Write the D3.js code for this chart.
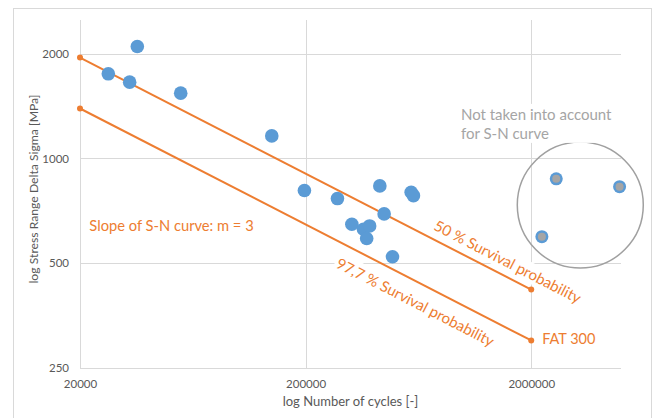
<!DOCTYPE html>
<html>
<head>
<meta charset="utf-8">
<script src="https://cdn.jsdelivr.net/npm/d3@7"></script>
<style>
  body { margin: 0; background: #fff; }
  svg text { font-family: "Lato", "Open Sans", sans-serif; }
</style>
</head>
<body>
<div id="chart-div"></div>
<script>
// Constants for the chart
const CHART_WIDTH = 653;
const CHART_HEIGHT = 418;
const MARGIN = { left: 80, top: 20, right: 32, bottom: 50 };

// test results: cycles N and stress range
const cycles = [35900, 26700, 33200, 55900, 141600, 197600, 276800, 426600, 587400,
  601200, 445800, 320600, 361000, 384400, 373000, 485400];
const stress = [2098, 1751, 1657, 1541, 1161, 809, 767, 834, 800,
  782, 693, 647, 626, 640, 589, 522];

// results not taken into account for the S-N curve
const excludedCycles = [2582000, 4928000, 2230000];
const excludedStress = [874, 830, 596];

// S-N curves (slope m = 3), end points
const curveCycles = [20000, 2000000];
const curve50 = [1950, 420];
const curve977 = [1392, 300];

// axis ticks
const xTicks = [20000, 200000, 2000000];
const yTicks = [250, 500, 1000, 2000];

const BLUE = "#5b9bd5";
const ORANGE = "#ed7d31";
const GREY = "#a5a5a5";
const GRID = "#d9d9d9";
const TEXT = "#595959";

let svg = d3.select("#chart-div")
  .append("svg")
  .attr("width", CHART_WIDTH)
  .attr("height", CHART_HEIGHT);

// chart frame
svg.append("rect")
  .attr("x", 13.5).attr("y", 8.5)
  .attr("width", 638).attr("height", 430)
  .attr("fill", "none").attr("stroke", GRID);

let xScale = d3.scaleLog()
  .domain([20000, 5000000])
  .range([MARGIN.left, CHART_WIDTH - MARGIN.right]);

let yScale = d3.scaleLog().base(2)
  .domain([250, 2500])
  .range([CHART_HEIGHT - MARGIN.bottom, MARGIN.top]);

// gridlines
let grid = svg.append("g").attr("class", "grid");
grid.selectAll("line.h")
  .data(yTicks.slice(1))
  .join("line")
  .attr("class", "h")
  .attr("x1", MARGIN.left).attr("x2", CHART_WIDTH - MARGIN.right)
  .attr("y1", d => Math.round(yScale(d)) + 0.5).attr("y2", d => Math.round(yScale(d)) + 0.5)
  .attr("stroke", GRID);
grid.selectAll("line.v")
  .data(xTicks.slice(1))
  .join("line")
  .attr("class", "v")
  .attr("y1", MARGIN.top).attr("y2", CHART_HEIGHT - MARGIN.bottom)
  .attr("x1", d => Math.round(xScale(d)) + 0.5).attr("x2", d => Math.round(xScale(d)) + 0.5)
  .attr("stroke", GRID);
// axis lines
grid.append("line")
  .attr("x1", MARGIN.left + 0.5).attr("x2", MARGIN.left + 0.5)
  .attr("y1", MARGIN.top).attr("y2", CHART_HEIGHT - MARGIN.bottom)
  .attr("stroke", GRID);
grid.append("line")
  .attr("x1", MARGIN.left).attr("x2", CHART_WIDTH - MARGIN.right)
  .attr("y1", CHART_HEIGHT - MARGIN.bottom + 0.5).attr("y2", CHART_HEIGHT - MARGIN.bottom + 0.5)
  .attr("stroke", GRID);

// axes (labels only)
let xAxis = d3.axisBottom(xScale).tickValues(xTicks).tickFormat(d3.format("d")).tickSize(0).tickPadding(12);
let yAxis = d3.axisLeft(yScale).tickValues(yTicks).tickFormat(d3.format("d")).tickSize(0).tickPadding(11);

svg.append("g")
  .attr("class", "x-axis")
  .attr("transform", "translate(0," + (CHART_HEIGHT - MARGIN.bottom) + ")")
  .call(xAxis);
svg.append("g")
  .attr("class", "y-axis")
  .attr("transform", "translate(" + MARGIN.left + ",0)")
  .call(yAxis);
svg.selectAll(".domain").remove();
svg.selectAll(".x-axis text, .y-axis text")
  .attr("fill", TEXT)
  .style("font-size", "11.5px");

// axis titles
svg.append("text")
  .attr("x", (MARGIN.left + CHART_WIDTH - MARGIN.right) / 2)
  .attr("y", 406)
  .attr("text-anchor", "middle")
  .attr("fill", TEXT)
  .style("font-size", "13px")
  .text("log Number of cycles [-]");
svg.append("text")
  .attr("transform", "translate(38,189) rotate(-90)")
  .attr("text-anchor", "middle")
  .attr("fill", TEXT)
  .style("font-size", "12.2px")
  .text("log Stress Range Delta Sigma [MPa]");

// S-N curves
const lineGenerator = d3.line()
  .x(d => xScale(d[0]))
  .y(d => yScale(d[1]));

[curve50, curve977].forEach(curve => {
  let pts = curveCycles.map((c, i) => [c, curve[i]]);
  svg.append("path")
    .datum(pts)
    .attr("d", lineGenerator)
    .attr("fill", "none")
    .attr("stroke", ORANGE)
    .attr("stroke-width", 2);
  svg.append("g")
    .selectAll("circle")
    .data(pts)
    .join("circle")
    .attr("cx", d => xScale(d[0]))
    .attr("cy", d => yScale(d[1]))
    .attr("r", 3)
    .attr("fill", ORANGE);
});

// test results
svg.append("g")
  .attr("class", "scatter")
  .selectAll("circle")
  .data(cycles.map((c, i) => [c, stress[i]]))
  .join("circle")
  .attr("cx", d => xScale(d[0]))
  .attr("cy", d => yScale(d[1]))
  .attr("r", 6.8)
  .attr("fill", BLUE);

let excl = svg.append("g").attr("class", "excluded");
let exclData = excludedCycles.map((c, i) => [c, excludedStress[i]]);
excl.selectAll("circle.outer")
  .data(exclData)
  .join("circle")
  .attr("class", "outer")
  .attr("cx", d => xScale(d[0]))
  .attr("cy", d => yScale(d[1]))
  .attr("r", 6.5)
  .attr("fill", BLUE);
excl.selectAll("circle.inner")
  .data(exclData)
  .join("circle")
  .attr("class", "inner")
  .attr("cx", d => xScale(d[0]))
  .attr("cy", d => yScale(d[1]))
  .attr("r", 4)
  .attr("fill", GREY);

// annotation ring around the excluded results
svg.append("circle")
  .attr("cx", xScale(3300000))
  .attr("cy", yScale(735))
  .attr("r", 63)
  .attr("fill", "none")
  .attr("stroke", "#a0a0a0")
  .attr("stroke-width", 1.5);

// labels with white boxes, like the text boxes
const angle = Math.atan2(
  yScale(curve50[1]) - yScale(curve50[0]),
  xScale(curveCycles[1]) - xScale(curveCycles[0])) * 180 / Math.PI;

function addLabel(x, y, rot, lines, color, size) {
  let g = svg.append("g").attr("transform", `translate(${x},${y}) rotate(${rot})`);
  let bg = g.append("rect").attr("fill", "#fff");
  let t = g.append("text")
    .attr("fill", color)
    .style("font-size", size + "px");
  lines.forEach((l, i) => {
    t.append("tspan").attr("x", 0).attr("dy", i ? 19 : 0).text(l);
  });
  let b = t.node().getBBox();
  bg.attr("x", b.x - 2).attr("y", b.y - 1)
    .attr("width", b.width + 4).attr("height", b.height + 2);
}

addLabel(xScale(22000), yScale(620), 0, ["Slope of S-N curve: m = 3"], ORANGE, 14.7);
addLabel(xScale(732000), yScale(626), angle, ["50 % Survival probability"], ORANGE, 15);
addLabel(xScale(270000), yScale(488), angle, ["97,7 % Survival probability"], ORANGE, 15);
addLabel(xScale(curveCycles[1]) + 11, yScale(curve977[1]) + 4, 0, ["FAT 300"], ORANGE, 14.5);
addLabel(xScale(976000), yScale(1291), 0, ["Not taken into account", "for S-N curve"], GREY, 15);
</script>
</body>
</html>
